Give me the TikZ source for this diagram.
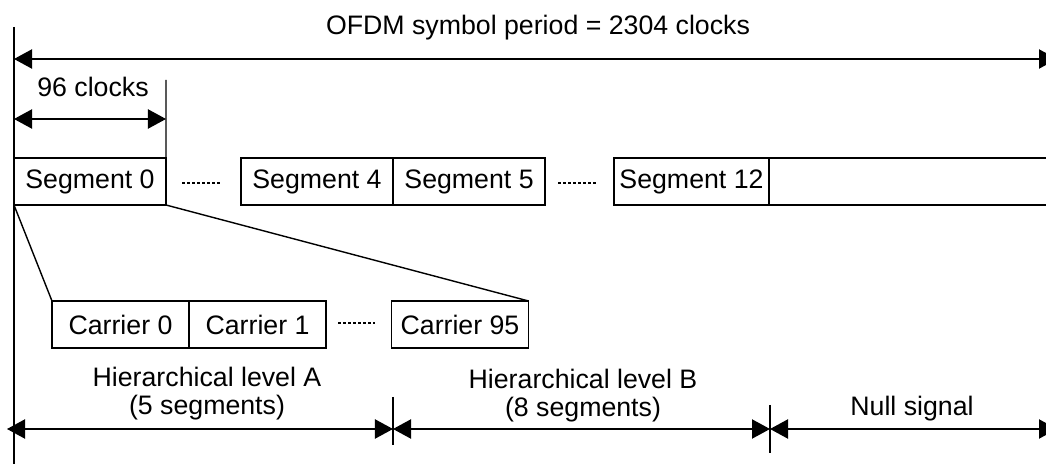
\documentclass[tikz,border=0pt]{standalone}
\usepackage{fontspec}
\setmainfont{Liberation Sans}
\usetikzlibrary{arrows.meta,positioning}

\tikzset{
  segbox/.style={draw, line width=1pt, minimum width=3.8cm, minimum height=1.175cm, inner sep=0pt, outer sep=0pt},
  carbox/.style={segbox, minimum width=3.425cm},
  dimline/.style={line width=1pt, {Triangle[length=0.45cm,width=0.48cm]}-{Triangle[length=0.45cm,width=0.48cm]}},
  dotrow/.style={line width=2pt, dash pattern=on 2pt off 1.6pt},
  lbl/.style={inner sep=0pt, align=center}
}

\begin{document}
\begin{tikzpicture}[x=0.025cm, y=-0.025cm, line width=1pt, font=\fontsize{19pt}{19.9pt}\selectfont]

    % Ramka obrazka
    \useasboundingbox (0,0) rectangle (1046,464);
    \clip (0,0) rectangle (1046,464);

    % Poczatek osi czasu
    \draw (14,27) -- (14,470);

    % Caly symbol OFDM
    \coordinate (symL) at (14,59);
    \coordinate (symR) at (1057,59);
    \draw[dimline] (symL) -- (symR);
    \node[anchor=base] (symtxt) at (538,35) {OFDM symbol period = 2304 clocks};

    % Segmenty
    \node[segbox] (seg0) at (90,181.5) {Segment 0};
    \node[segbox] (seg4) at (317,181.5) {Segment 4};
    \node[segbox, right=0pt of seg4] (seg5) {Segment 5};
    \node[segbox, minimum width=3.875cm] (seg12) at (691.5,181.5) {Segment 12};
    \node[segbox, minimum width=8cm, right=0pt of seg12] (nullseg) {};

    % Kropki miedzy segmentami
    \draw[dotrow] (182,183) -- (221,183);
    \draw[dotrow] (558,183) -- (597,183);

    % Dlugosc jednego segmentu
    \draw (seg0.north east) -- (166,80);
    \coordinate (clkL) at (14,119);
    \coordinate (clkR) at (166,119);
    \draw[dimline] (clkL) -- (clkR);
    \node[anchor=base] (clktxt) at (93,97) {96 clocks};

    % Nosne w segmencie 0
    \node[carbox] (car0) at (120.5,324.5) {Carrier 0};
    \node[carbox, right=0pt of car0] (car1) {Carrier 1};
    \node[carbox] (car95) at (460,324.5) {Carrier 95};
    \draw[dotrow] (338,323) -- (375,323);

    % Linie rozwiniecia segmentu 0
    \draw (seg0.south west) -- (car0.north west);
    \draw (seg0.south east) -- (car95.north east);

    % Poziomy hierarchiczne
    \coordinate (hL) at (7,429);
    \coordinate (hAB) at (393,429);
    \coordinate (hBN) at (770,429);
    \coordinate (hR) at (1057,429);
    \draw (393,397) -- (393,445);
    \draw (770,405) -- (770,453);
    \draw[dimline] (hL) -- (hAB);
    \draw[dimline] (hAB) -- (hBN);
    \draw[dimline] (hBN) -- (hR);
    \node[lbl, anchor=south] (lvlA) at (207,421) {Hierarchical level A\\(5 segments)};
    \node[lbl, anchor=south] (lvlB) at (583,423) {Hierarchical level B\\(8 segments)};
    \node[lbl, anchor=south] (nullsig) at (912,421.5) {Null signal};

\end{tikzpicture}
\end{document}
